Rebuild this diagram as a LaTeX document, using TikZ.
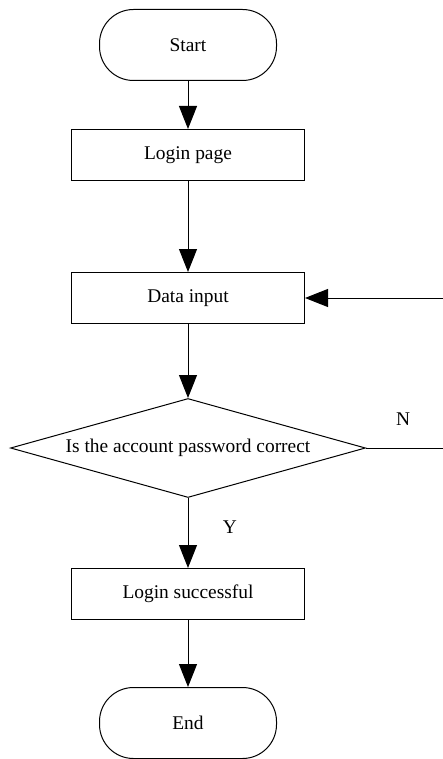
\documentclass[tikz,border=0pt]{standalone}
\usepackage{fontspec}
\setmainfont{Liberation Serif}
\usetikzlibrary{shapes.geometric,arrows.meta}

\tikzset{
  term/.style={draw,rounded corners=17pt,minimum width=88.5pt,minimum height=35.5pt},
  proc/.style={draw,minimum width=116.5pt,minimum height=25.5pt},
  decide/.style={draw,diamond,shape aspect=3.6,inner sep=0pt,minimum width=177.5pt,minimum height=49.5pt},
  flow/.style={-{Triangle[length=11.5pt,width=9pt]}},
}

\begin{document}
\begin{tikzpicture}[x=0.5pt,y=-0.5pt,line width=0.5pt,font=\fontsize{9.7}{11.6}\selectfont]
\useasboundingbox (0,0) rectangle (443,759);
\clip (0,0) rectangle (443,759);
% boxes
\node[term] (start) at (188,45) {Start};
\node[proc] (login) at (188,155) {Login page};
\node[proc] (input) at (188,298) {Data input};
\node[decide] (check) at (188,448) {Is the account password correct};
\node[proc] (ok) at (188,594) {Login successful};
\node[term] (stop) at (188,723) {End};
% labels
\node (no) at (403,419) {N};
\node (yes) at (230,527) {Y};
\coordinate (back) at (447,448);
% arrows
\draw[flow] (start) -- (login);
\draw[flow] (login) -- (input);
\draw[flow] (input) -- (check);
\draw[flow] (check) -- (ok);
\draw[flow] (ok) -- (stop);
\draw[flow] (check.east) -| (back |- input) -- (input.east);
\end{tikzpicture}
\end{document}
